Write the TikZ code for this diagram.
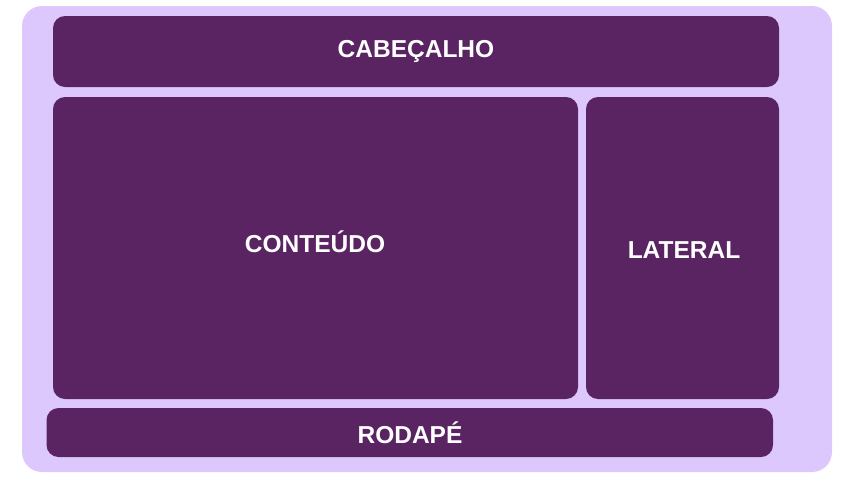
\documentclass[tikz,border=0pt]{standalone}
\usepackage{fontspec}
\setmainfont{Liberation Sans}
\definecolor{outerbg}{HTML}{DDC8FE}
\definecolor{blockc}{HTML}{5A2463}
\begin{document}
\begin{tikzpicture}[x=1pt,y=-1pt,
  blockbox/.style={fill=blockc, rounded corners=12pt},
  lbl/.style={text=white, font=\fontsize{24.5}{28}\selectfont\bfseries, anchor=base, inner sep=0pt}]
\useasboundingbox (0,0) rectangle (855,480);
\fill[outerbg, rounded corners=20pt] (22,6) rectangle (832,472);
\fill[blockbox] (53,16) rectangle (779,87);
\fill[blockbox] (53,97) rectangle (578,399);
\fill[blockbox] (586,97) rectangle (779,399);
\fill[blockbox] (46.5,408) rectangle (773,457);
\node[lbl] (cab) at (416,57.3) {CABEÇALHO};
\node[lbl] (con) at (315,252) {CONTEÚDO};
\node[lbl] (lat) at (684,258.3) {LATERAL};
\node[lbl] (rod) at (410,443.3) {RODAPÉ};
\end{tikzpicture}
\end{document}
